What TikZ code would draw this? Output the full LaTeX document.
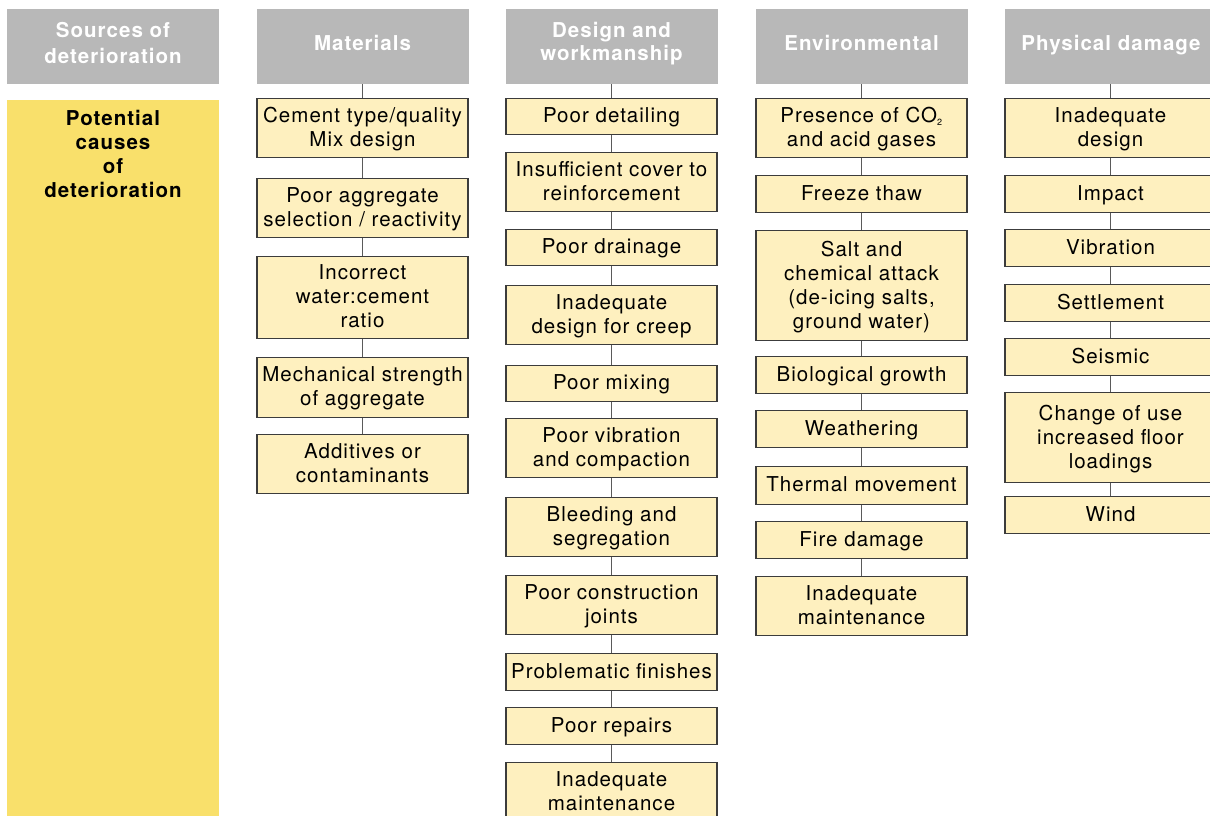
\documentclass[tikz,border=0pt]{standalone}
\usepackage{fontspec}
\setmainfont{TeX Gyre Heros}[LetterSpace=5]
\definecolor{hdrgray}{HTML}{B8B8B8}
\definecolor{panelyel}{HTML}{F9E06B}
\definecolor{boxfill}{HTML}{FEF0BF}
\definecolor{boxline}{HTML}{3C3C3C}
\definecolor{connline}{HTML}{5A5A5A}
\tikzset{
  cbox/.style={draw=boxline, fill=boxfill, line width=1.2pt, minimum width=211pt,
    inner sep=0pt, align=center, anchor=north, text depth=2.5pt,
    font=\fontsize{20.5}{24}\selectfont},
  hdr/.style={fill=hdrgray, minimum width=212pt, minimum height=75pt, inner sep=0pt, anchor=north},
  hdrtxt/.style={text=white, align=center, inner sep=0pt, text depth=0pt,
    font=\fontsize{20.5}{23}\selectfont\bfseries},
  conn/.style={draw=connline, line width=1.4pt},
}
\begin{document}
\begin{tikzpicture}[x=1pt,y=-1pt]
\useasboundingbox (0,0) rectangle (1210,815);
\clip (0,0) rectangle (1210,815);
\fill[white] (0,0) rectangle (1210,815);

% headers
\node[hdr] (h0) at (113,9) {};
\node[hdrtxt, font=\fontsize{20.5}{26}\selectfont\bfseries] (h0t) at (113,43) {Sources of\\deterioration};
\node[hdr] (h1) at (362.5,9) {};
\node[hdrtxt] (h1t) at (362.5,42.5) {Materials};
\node[hdr] (h2) at (611.5,9) {};
\node[hdrtxt] (h2t) at (611.5,41.5) {Design and\\workmanship};
\node[hdr] (h3) at (861.5,9) {};
\node[hdrtxt] (h3t) at (861.5,42.5) {Environmental};
\node[hdr] (h4) at (1111,9) {};
\node[hdrtxt] (h4t) at (1111,42.5) {Physical damage};

% yellow panel
\node[fill=panelyel, minimum width=212pt, minimum height=720pt, inner sep=0pt, anchor=north] (y0) at (113,100) {};
\node[align=center, inner sep=0pt, text depth=0pt, font=\fontsize{20.5}{24}\selectfont\bfseries] (y0t) at (113,154) {Potential\\causes\\of\\deterioration};

% Materials
\node[cbox, minimum height=59pt] (m1) at (362.5,98) {Cement type/quality\\Mix design};
\node[cbox, minimum height=59pt] (m2) at (362.5,178) {Poor aggregate\\selection / reactivity};
\node[cbox, minimum height=82pt] (m3) at (362.5,256) {Incorrect\\water:cement\\ratio};
\node[cbox, minimum height=60pt] (m4) at (362.5,357) {Mechanical strength\\of aggregate};
\node[cbox, minimum height=59pt] (m5) at (362.5,434) {Additives or\\contaminants};

% Design and workmanship
\node[cbox, minimum height=36pt] (d1) at (611.5,98) {Poor detailing};
\node[cbox, minimum height=59pt] (d2) at (611.5,152) {Insufficient cover to\\reinforcement};
\node[cbox, minimum height=36pt] (d3) at (611.5,229) {Poor drainage};
\node[cbox, minimum height=59pt] (d4) at (611.5,285) {Inadequate\\design for creep};
\node[cbox, minimum height=36pt] (d5) at (611.5,365) {Poor mixing};
\node[cbox, minimum height=59pt] (d6) at (611.5,418) {Poor vibration\\and compaction};
\node[cbox, minimum height=59pt] (d7) at (611.5,497) {Bleeding and\\segregation};
\node[cbox, minimum height=59pt] (d8) at (611.5,575) {Poor construction\\joints};
\node[cbox, minimum height=37pt] (d9) at (611.5,653) {Problematic finishes};
\node[cbox, minimum height=37pt] (d10) at (611.5,707) {Poor repairs};
\node[cbox, minimum height=59pt] (d11) at (611.5,762) {Inadequate\\maintenance};

% Environmental
\node[cbox, minimum height=59pt] (e1) at (861.5,98) {Presence of CO\textsubscript{\fontsize{9}{9}\selectfont 2}\\and acid gases};
\node[cbox, minimum height=37pt] (e2) at (861.5,175) {Freeze thaw};
\node[cbox, minimum height=110pt] (e3) at (861.5,230) {Salt and\\chemical attack\\(de-icing salts,\\ground water)};
\node[cbox, minimum height=37pt] (e4) at (861.5,356) {Biological growth};
\node[cbox, minimum height=37pt] (e5) at (861.5,410) {Weathering};
\node[cbox, minimum height=38pt] (e6) at (861.5,466) {Thermal movement};
\node[cbox, minimum height=37pt] (e7) at (861.5,521) {Fire damage};
\node[cbox, minimum height=59pt] (e8) at (861.5,576) {Inadequate\\maintenance};

% Physical damage
\node[cbox, minimum height=59pt] (p1) at (1110.5,98) {Inadequate\\design};
\node[cbox, minimum height=37pt] (p2) at (1110.5,175) {Impact};
\node[cbox, minimum height=37pt] (p3) at (1110.5,229) {Vibration};
\node[cbox, minimum height=37pt] (p4) at (1110.5,284) {Settlement};
\node[cbox, minimum height=37pt] (p5) at (1110.5,338) {Seismic};
\node[cbox, minimum height=90pt] (p6) at (1110.5,392) {Change of use\\increased floor\\loadings};
\node[cbox, minimum height=37pt] (p7) at (1110.5,496) {Wind};

% connectors
\draw[conn] (h1.south) -- (m1.north);
\foreach \a/\b in {m1/m2,m2/m3,m3/m4,m4/m5} \draw[conn] (\a.south) -- (\b.north);
\draw[conn] (h2.south) -- (d1.north);
\foreach \a/\b in {d1/d2,d2/d3,d3/d4,d4/d5,d5/d6,d6/d7,d7/d8,d8/d9,d9/d10,d10/d11} \draw[conn] (\a.south) -- (\b.north);
\draw[conn] (h3.south) -- (e1.north);
\foreach \a/\b in {e1/e2,e2/e3,e3/e4,e4/e5,e5/e6,e6/e7,e7/e8} \draw[conn] (\a.south) -- (\b.north);
\draw[conn] (h4.south -| p1.north) -- (p1.north);
\foreach \a/\b in {p1/p2,p2/p3,p3/p4,p4/p5,p5/p6,p6/p7} \draw[conn] (\a.south) -- (\b.north);
\end{tikzpicture}
\end{document}
